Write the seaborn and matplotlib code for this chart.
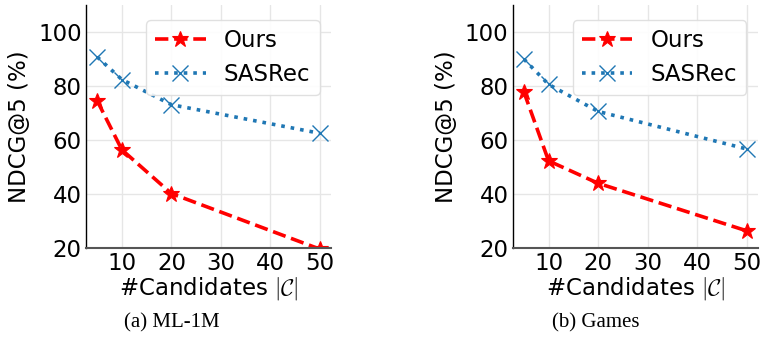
import matplotlib
matplotlib.use("Agg")
import matplotlib.pyplot as plt
import seaborn as sns
import pandas as pd

candidates = [5, 10, 20, 50]
ml_ours = [74.6, 56.4, 40.2, 19.6]
ml_sasrec = [90.8, 82.4, 73.1, 62.5]
games_ours = [77.9, 52.3, 44.0, 26.4]
games_sasrec = [90.0, 80.6, 70.6, 56.7]
x_ticks = [10, 20, 30, 40, 50]
y_ticks = [20, 40, 60, 80, 100]
panel_titles = ["(a) ML-1M", "(b) Games"]
series_names = ["Ours", "SASRec"]

sns.set_theme(style="whitegrid")
plt.rcParams["font.family"] = ["DejaVu Sans"]
plt.rcParams["mathtext.fontset"] = "cm"
plt.rcParams["text.color"] = "black"
plt.rcParams["axes.labelcolor"] = "black"
plt.rcParams["xtick.color"] = "black"
plt.rcParams["ytick.color"] = "black"

FS = 16.5

fig = plt.figure(figsize=(7.61, 3.46), dpi=100)
ax1 = fig.add_axes([0.113, 0.283, 0.322, 0.7025])
ax2 = fig.add_axes([0.6737, 0.283, 0.322, 0.7025])

panels = [(ax1, ml_ours, ml_sasrec), (ax2, games_ours, games_sasrec)]
for i, (ax, ours, sas) in enumerate(panels):
    df = pd.DataFrame({"x": candidates * 2,
                       "y": ours + sas,
                       "model": [series_names[0]] * 4 + [series_names[1]] * 4})
    sns.lineplot(data=df[df.model == "Ours"], x="x", y="y", ax=ax,
                 color="red", linestyle="--", linewidth=2.6, marker="*",
                 markersize=12, markeredgecolor="red", markeredgewidth=0.8,
                 label="Ours")
    sns.lineplot(data=df[df.model == "SASRec"], x="x", y="y", ax=ax,
                 color="#1f77b4", linestyle=":", linewidth=2.6, marker="x",
                 markersize=11, markeredgewidth=1.0, markeredgecolor="#1f77b4",
                 label="SASRec")
    ax.set_xlim(2.75, 52.25)
    ax.set_ylim(20, 110)
    ax.set_xticks(x_ticks)
    ax.set_yticks(y_ticks)
    ax.tick_params(labelsize=FS, length=0, pad=3)
    ax.grid(True, color="#e6e6e6", linewidth=1.0)
    ax.set_facecolor("white")
    for s in ["top", "right"]:
        ax.spines[s].set_visible(False)
    ax.spines["left"].set_color("black")
    ax.spines["bottom"].set_color("#555555")
    ax.spines["left"].set_linewidth(1.0)
    ax.spines["bottom"].set_linewidth(1.5)
    ax.set_xlabel(r"#Candidates $|\mathcal{C}|$", fontsize=FS, labelpad=0)
    ax.set_ylabel("NDCG@5 (%)", fontsize=FS, labelpad=5)
    leg = ax.legend(loc="upper right", fontsize=FS, handlelength=2.2,
                    frameon=True, fancybox=True, borderpad=0.4,
                    labelspacing=0.45, handletextpad=0.8,
                    bbox_to_anchor=(1.0, 0.985))
    leg.get_frame().set_edgecolor("#dddddd")
    leg.get_frame().set_facecolor("white")
    leg.get_frame().set_alpha(0.9)

fig.text(172 / 761, 1 - 323 / 346, panel_titles[0], ha="center", va="center",
         fontsize=15, family="Liberation Serif")
fig.text(596 / 761, 1 - 323 / 346, panel_titles[1], ha="center", va="center",
         fontsize=15, family="Liberation Serif")

fig.savefig("out.png", dpi=100, facecolor="white")
